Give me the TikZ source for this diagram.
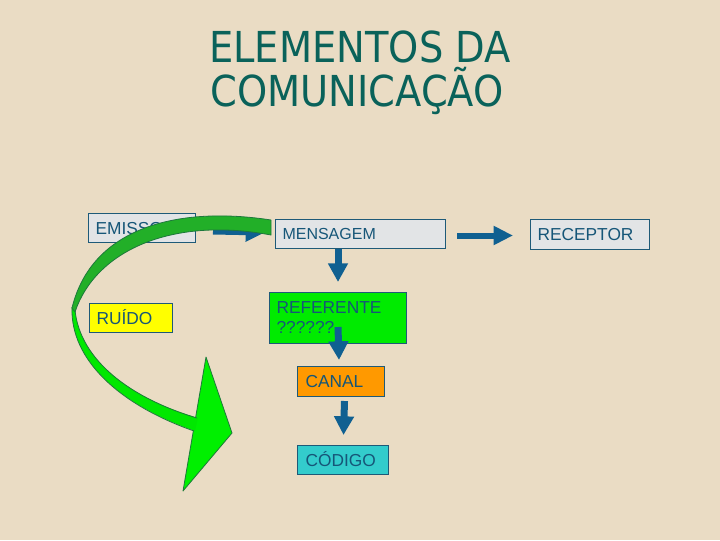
\documentclass[tikz,border=0pt]{standalone}
\usepackage{fontspec}
\setmainfont{Liberation Sans}
\newfontfamily\titlefont[FakeStretch=0.9]{DejaVu Sans}
\usetikzlibrary{arrows.meta,calc}
\definecolor{bg}{RGB}{234,220,196}
\definecolor{titlecol}{RGB}{10,98,90}
\definecolor{boxline}{RGB}{30,90,120}
\definecolor{boxtext}{RGB}{22,86,120}
\definecolor{grayfill}{RGB}{226,228,230}
\definecolor{refgreen}{RGB}{0,235,0}
\definecolor{canalor}{RGB}{255,153,0}
\definecolor{codcyan}{RGB}{51,204,204}
\definecolor{ruidoy}{RGB}{255,255,0}
\definecolor{arrowblue}{RGB}{16,96,145}
\definecolor{ribbondark}{RGB}{34,175,40}
\definecolor{ribbonlight}{RGB}{0,232,0}
\definecolor{headgreen}{RGB}{0,240,0}
\definecolor{greenline}{RGB}{30,120,60}
\tikzset{
  box/.style={draw=boxline, line width=0.75pt, anchor=north west, inner xsep=5.25pt,
    inner ysep=0pt, align=left, text=boxtext, font=\fontsize{13}{15}\selectfont},
  oneline/.style={text height=9.3pt, text depth=0pt},
  titlestyle/.style={text=titlecol, font=\titlefont\fontsize{32}{33}\selectfont, anchor=base, inner sep=0pt},
  downarrow/.style={draw=arrowblue, line width=5.25pt, -{Triangle[width=14.25pt,length=14pt]}},
  rightarrow/.style={draw=arrowblue, line width=4.5pt, -{Triangle[width=13.5pt,length=14.5pt]}},
  greenedge/.style={draw=greenline, line width=0.6pt}
}
\begin{document}
\begin{tikzpicture}[x=0.75pt,y=-0.75pt]
\fill[bg] (0,0) rectangle (720,540);
\useasboundingbox (0,0) rectangle (720,540);

% title
\node[titlestyle] (t1) at (360,62) {ELEMENTOS DA};
\node[titlestyle] (t2) at (357,106) {COMUNICAÇÃO};

% boxes
\node[box, oneline, fill=grayfill, text width=69.75pt, minimum height=21.75pt] (emis) at (88,213) {EMISSOR};
\node[box, oneline, fill=grayfill, text width=117pt, minimum height=21.75pt,
      font=\fontsize{12}{14}\selectfont, text height=8.6pt] (mens) at (275,219) {MENSAGEM};
\node[box, oneline, fill=grayfill, text width=78.75pt, minimum height=22.5pt] (rec) at (530,219) {RECEPTOR};
\node[box, oneline, fill=ruidoy, text width=51.75pt, minimum height=21.75pt] (ruido) at (89,303) {RUÍDO};
\node[box, fill=refgreen, text width=92.25pt, minimum height=38.25pt] (ref) at (269,292) {REFERENTE\\??????};
\node[box, oneline, fill=canalor, text width=53.25pt, minimum height=22.5pt, inner xsep=6pt] (canal) at (297,366) {CANAL};
\node[box, oneline, fill=codcyan, text width=56.25pt, minimum height=21.75pt, inner xsep=6pt] (cod) at (297,445) {CÓDIGO};

% blue block arrows
\draw[rightarrow] ($(emis.east)+(17,3.5)$) -- ($(mens.west)+(-10,-1.5)$);
\draw[rightarrow] ($(mens.east)+(11,1.5)$) -- ($(rec.west)+(-17,1)$);
\draw[downarrow] ($(mens.south)+(-22.5,0)$) -- ($(ref.north)+(0,-10)$);
\draw[downarrow] ($(ref.south)+(0,-17)$) -- ($(canal.north)+(-2,-6)$);
\draw[downarrow] ($(canal.south)+(3.5,4)$) -- ($(cod.north)+(0.5,-10)$);

% big green curved arrow
\filldraw[fill=headgreen, draw=greenline, line width=0.6pt, line join=round]
  (206,357) -- (232,433) -- (183,491) -- cycle;
\fill[ribbonlight]
  (72,307) .. controls (70,360) and (120,405) .. (195,431)
  -- (198,418) .. controls (130,398) and (80,360) .. (75,310) -- cycle;
\draw[greenedge] (72,307) .. controls (70,360) and (120,405) .. (194,431);
\draw[greenedge] (197,418) .. controls (130,398) and (80,360) .. (75,310);
\filldraw[fill=ribbondark, draw=greenline, line width=0.6pt, line join=round]
  (271,220) .. controls (180,206) and (92,226) .. (72,308)
  -- (75,312) .. controls (95,252) and (170,216) .. (271,235) -- cycle;
\end{tikzpicture}
\end{document}
